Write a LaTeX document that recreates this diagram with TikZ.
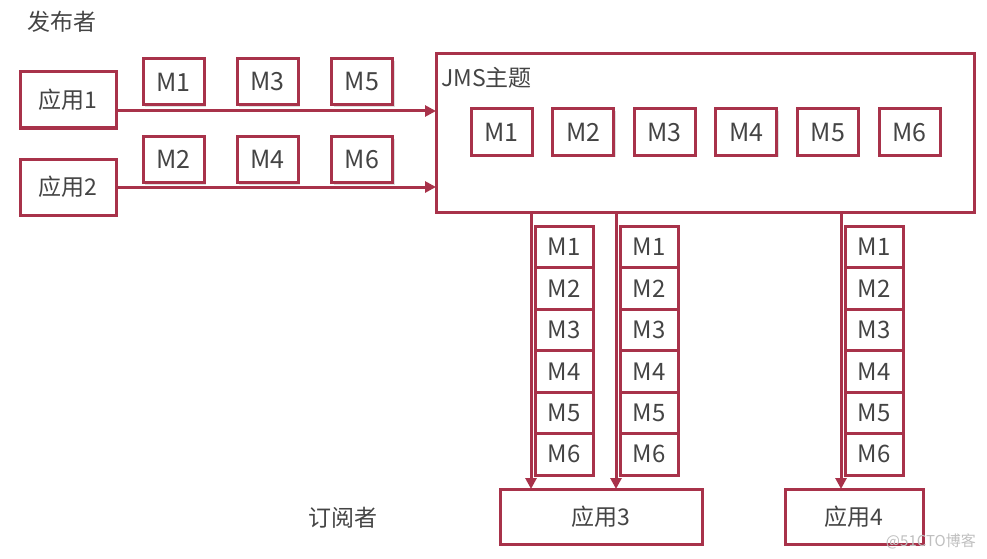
\documentclass[tikz,border=0pt]{standalone}
\usepackage{fontspec}
\setmainfont{Noto Sans CJK SC}
\usetikzlibrary{arrows.meta,shadows}
\definecolor{jmsred}{HTML}{A8324A}
\definecolor{jmstext}{HTML}{444444}
\begin{document}
\begin{tikzpicture}[x=1pt,y=-1pt,
  box/.style={draw=jmsred,line width=3pt,fill=white,inner sep=0pt,outer sep=0pt,
    text=jmstext,font=\fontsize{23}{25}\selectfont,
    drop shadow={opacity=0.25,shadow xshift=2pt,shadow yshift=-2pt}},
  msg/.style={box,minimum width=61pt,minimum height=46pt,font=\fontsize{25}{27}\selectfont},
  cmsg/.style={box,minimum width=58pt,minimum height=41.5pt,font=\fontsize{24}{26}\selectfont},
  lbl/.style={text=jmstext,font=\fontsize{23}{25}\selectfont,inner sep=0pt},
  flow/.style={draw=jmsred,line width=3pt,-{Triangle[length=11pt,width=11pt]}}]
\useasboundingbox (0,0) rectangle (987,559);

\node[lbl] (pub) at (62,22) {发布者};
\node[lbl] (sub) at (343,518) {订阅者};

% topic box
\node[box,minimum width=538pt,minimum height=158pt] (jms) at (705,133) {};
\node[lbl,anchor=west] (jmsl) at (441,78) {JMS主题};
\foreach \i in {1,...,6}{
  \node[msg] (t\i) at ({501.5+81.6*(\i-1)},132) {M\i};
}

% publishers
\node[box,minimum width=96pt,minimum height=56pt] (app1) at (68,100) {应用1};
\node[box,minimum width=96pt,minimum height=56pt] (app2) at (68,187) {应用2};
\draw[flow] (app1.east |- 0,111) -- (jms.west |- 0,111);
\draw[flow] (app2.east |- 0,187) -- (jms.west |- 0,187);
\node[msg] (p1) at (173.5,82) {M1};
\node[msg] (p3) at (267.5,82) {M3};
\node[msg] (p5) at (362,82) {M5};
\node[msg] (p2) at (173.5,159.5) {M2};
\node[msg] (p4) at (267.5,159.5) {M4};
\node[msg] (p6) at (362,159.5) {M6};

% subscribers
\node[box,minimum width=202pt,minimum height=55pt] (app3) at (601,516.5) {应用3};
\node[box,minimum width=138pt,minimum height=55pt] (app4) at (854,516.5) {应用4};

\coordinate (ca) at (531,0);
\coordinate (cb) at (616,0);
\coordinate (cc) at (841,0);
\draw[flow] (jms.south -| ca) -- (app3.north -| ca);
\draw[flow] (jms.south -| cb) -- (app3.north -| cb);
\draw[flow] (jms.south -| cc) -- (app4.north -| cc);

\foreach \i in {1,...,6}{
  \node[cmsg] (a\i) at (564,{226+41.5*(\i-0.5)}) {M\i};
  \node[cmsg] (b\i) at (649,{226+41.5*(\i-0.5)}) {M\i};
  \node[cmsg] (c\i) at (874,{226+41.5*(\i-0.5)}) {M\i};
}

\node[text=black!25,font=\fontsize{15}{17}\selectfont,anchor=east,inner sep=0pt] (wm) at (976,541) {@51CTO博客};
\end{tikzpicture}
\end{document}
